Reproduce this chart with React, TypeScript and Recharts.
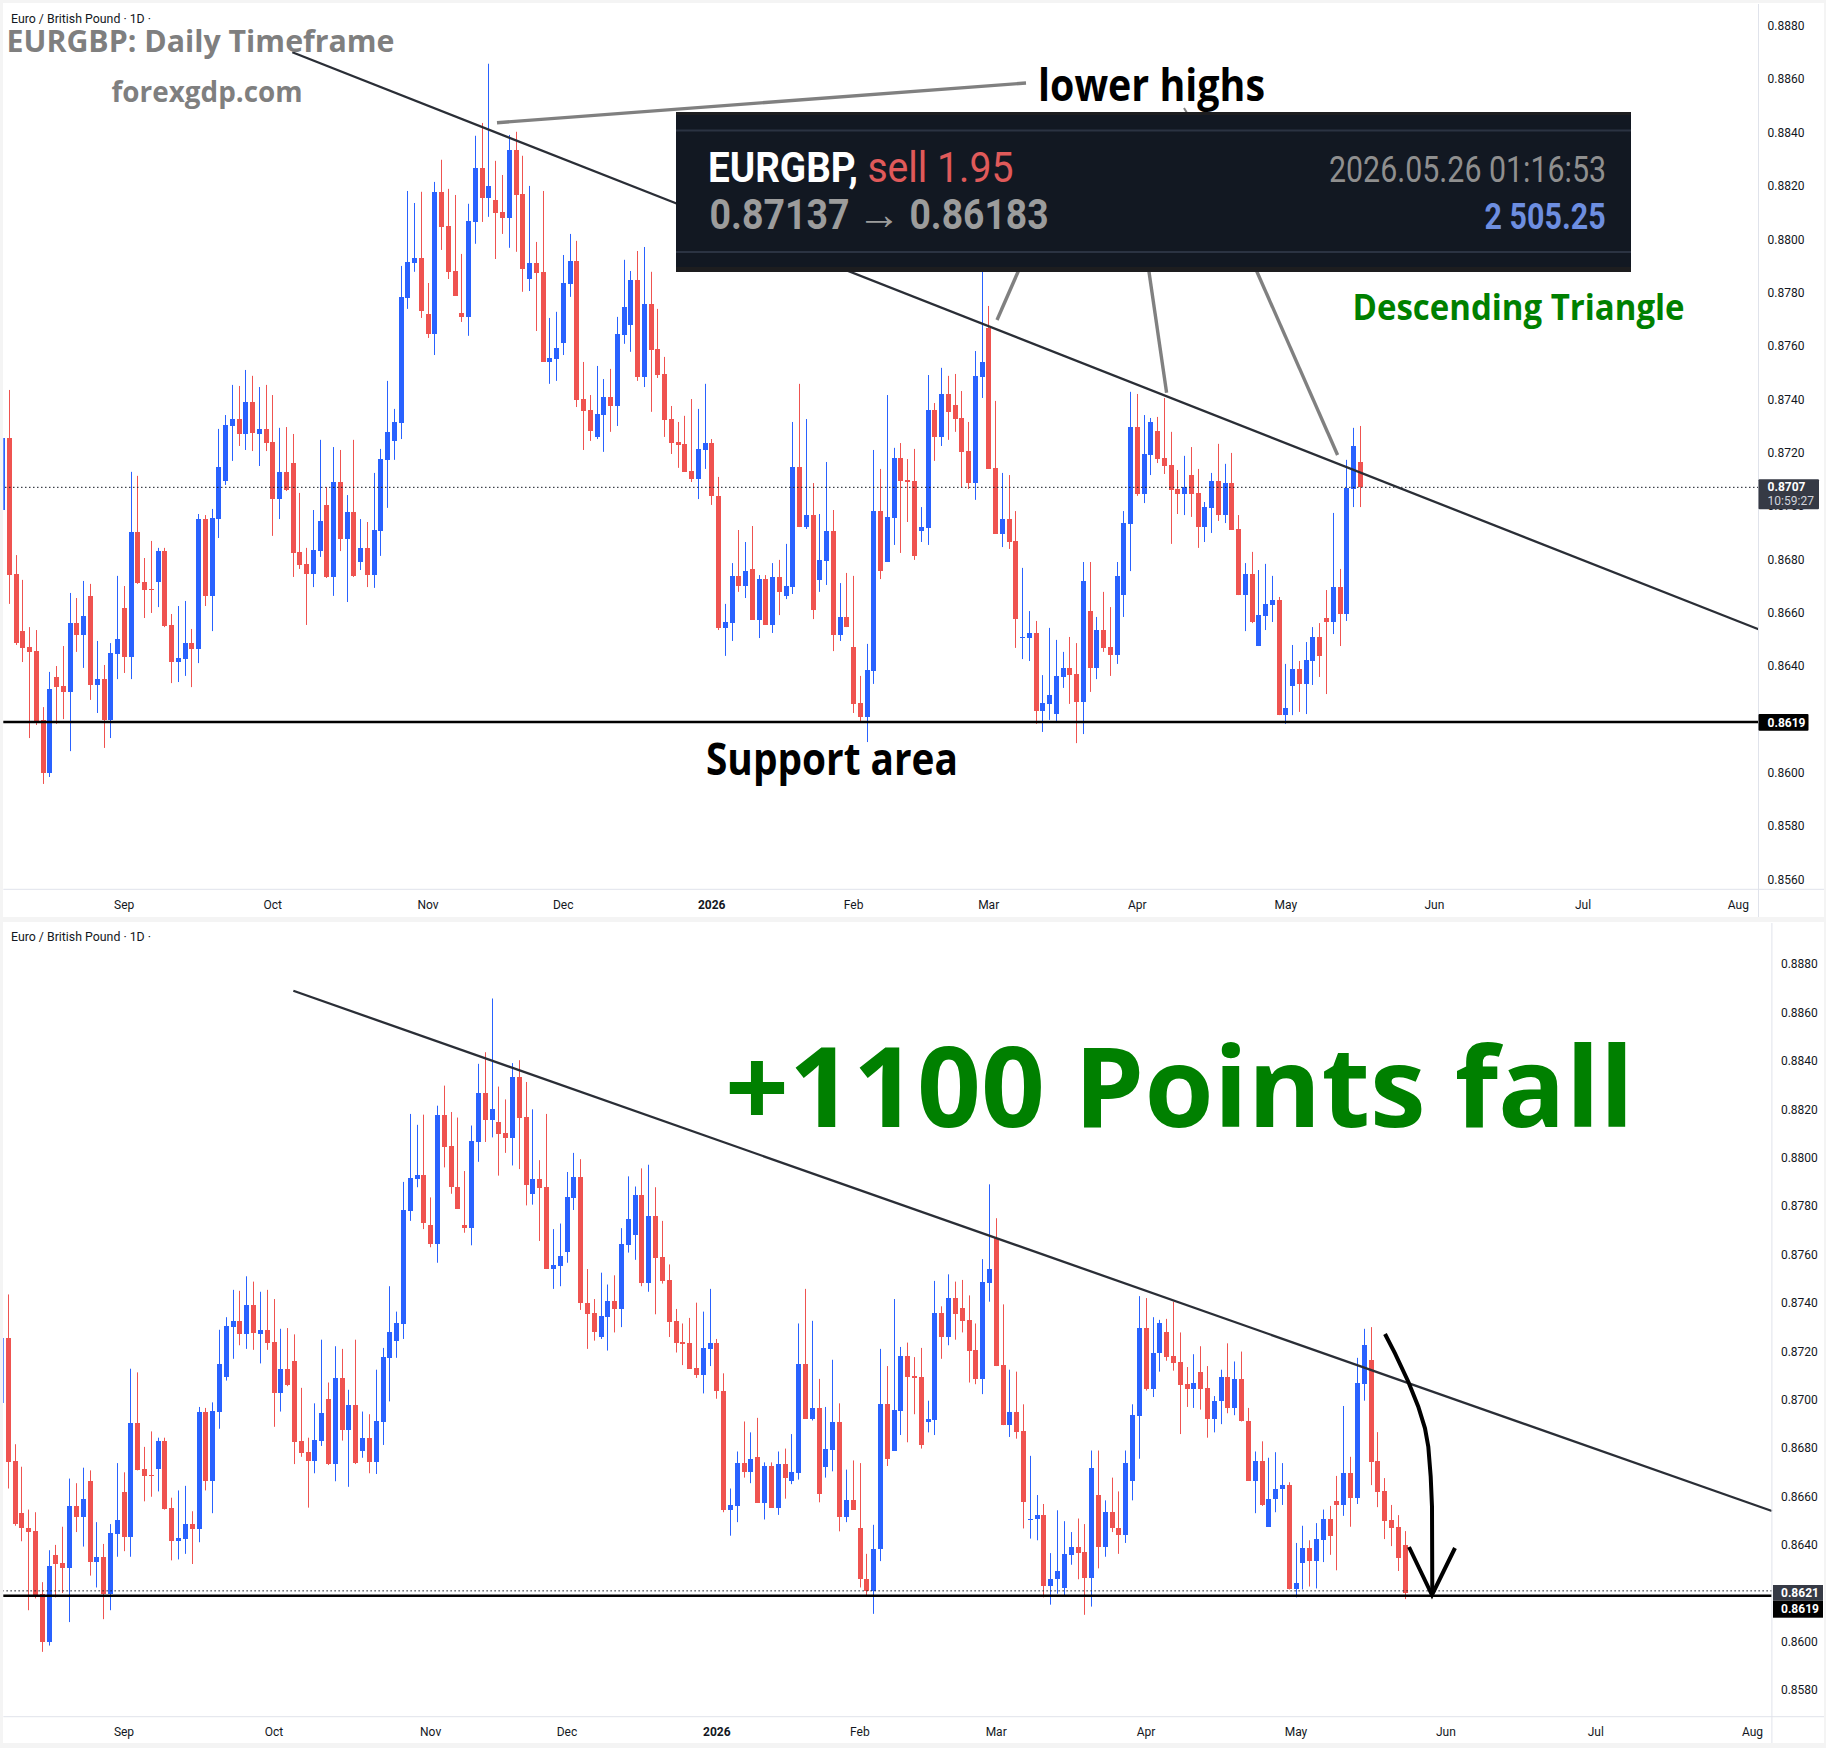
import React from "react";
import { ComposedChart, Bar, XAxis, YAxis, ReferenceLine } from "recharts";

const opens = [
  8698.5,8725.5,8674.5,8653.1,8647.1,8645.6,8619.8,8599.9,8635.9,8632.5,
  8630.3,8656.1,8651.6,8666.3,8632.9,8635.1,8619.8,8644.5,8661.8,8643.4,
  8690.3,8671.5,8668.9,8671.5,8683.1,8655.4,8641.5,8642.6,8648.6,8646.4,
  8695.1,8666.3,8695.1,8709.4,8730,8732.6,8727,8739,8727,8728.9,
  8724,8702.6,8712.8,8716.1,8682.8,8678.3,8674.5,8683.1,8700.4,8673.4,
  8709,8687.6,8697.8,8679,8684.3,8674.1,8690.6,8717.3,8724.4,8731.1,
  8778,8791.1,8793,8772,8764.5,8817.8,8805,8788.1,8772.4,8770.9,
  8806.5,8826.8,8815.5,8814.8,8810.3,8808,8833.5,8817,8785.1,8791.1,
  8787.8,8754,8755.1,8761.1,8783.3,8791.9,8740.1,8736,8725.9,8734.1,
  8740.9,8737.5,8764.1,8767.9,8784.8,8748.4,8775.8,8758.9,8749.5,8732.6,
  8724,8723.3,8713.1,8710.1,8721,8723.6,8703.8,8654.3,8656.1,8673.8,
  8670,8676.4,8657.3,8672.6,8655.4,8673.4,8666.3,8669.6,8714.6,8692.1,
  8696.6,8672.3,8679.4,8690.6,8651.6,8658.4,8647.1,8626.1,8620.9,8638.1,
  8698.1,8679,8695.5,8718,8709.8,8709.4,8690.6,8691.8,8736,8725.9,
  8742,8737.9,8733,8720.6,8708.6,8748.4,8766.8,8714.3,8689.5,8695.1,
  8686.9,8650.5,8650.5,8652.4,8623.1,8625.8,8622,8635.9,8639.3,8637,
  8626.5,8660.6,8639.3,8653.5,8647.1,8644.1,8666.6,8693.3,8729.6,8704.5,
  8719.1,8728.1,8718,8715.4,8706.4,8704.5,8711.6,8704.9,8692.1,8699.3,
  8709.4,8696.6,8708.6,8691.4,8666.6,8674.5,8647.5,8658.8,8662.9,8664.8,
  8621.6,8632.5,8638.9,8633.3,8641.9,8650.9,8658,8656.5,8669.6,8659.5,
  8706.4,8716.5,8674.6,8662.2,8650.3,8647.4,8639.9,
];
const closes = [
  8725.5,8674.1,8648.5,8646.8,8645.3,8619.4,8599.9,8631.4,8632.1,8630.3,
  8656.1,8651.6,8658.8,8632.9,8635.1,8619.8,8644.9,8650.1,8643.4,8690.3,
  8671.1,8668.5,8668.5,8683.1,8655,8641.5,8643,8648.6,8646.4,8695.1,
  8666.3,8695.5,8714.6,8730.4,8732.6,8727,8739,8727.4,8728.9,8723.6,
  8702.6,8712.8,8706,8682.4,8677.9,8674.5,8683.5,8694.4,8673.4,8709,
  8687.6,8697.8,8673.8,8684.3,8674.1,8691,8717.6,8727.8,8731.5,8778.4,
  8791.5,8793,8773.1,8764.5,8817.8,8804.6,8787.8,8778.8,8770.9,8806.9,
  8826.8,8815.5,8820,8809.9,8808,8833.5,8816.6,8788.9,8791.1,8787.4,
  8754,8755.5,8759.3,8783.6,8791.9,8739.8,8735.6,8728.1,8734.5,8740.9,
  8737.5,8764.5,8774.6,8784.8,8748.4,8775.8,8758.5,8749.1,8732.3,8723.6,
  8722.9,8712.8,8710.1,8721.4,8723.6,8703.8,8654.3,8656.5,8673.8,8670,
  8675.6,8657.3,8672.6,8655.4,8673.4,8667.8,8670,8714.6,8692.1,8696.6,
  8661,8679.8,8690.6,8651.6,8658.4,8654.6,8625.8,8620.9,8638.5,8698.1,
  8675.6,8695.9,8718,8709.4,8709,8681.3,8692.1,8736,8725.9,8742,
  8735.3,8732.6,8720.3,8708.6,8748.8,8754,8713.9,8689.5,8695.1,8686.5,
  8657.6,8650.9,8652.4,8623.1,8626.1,8629.1,8636.3,8639.3,8636.6,8626.5,
  8671.9,8639.3,8653.5,8646.8,8644.1,8673.8,8693.6,8729.6,8704.5,8719.5,
  8731.5,8717.6,8715,8706,8704.5,8707.1,8704.5,8692.1,8699.6,8709.4,
  8696.6,8708.6,8691,8666.6,8674.5,8656.5,8659.1,8663.3,8664.8,8621.6,
  8624.3,8638.9,8633.3,8642.3,8650.9,8643.8,8656.5,8669.6,8659.5,8706.8,
  8722.5,8674.2,8661.8,8649.9,8647,8634.6,8620.1,
];
const highs = [
  8727,8743.5,8681.6,8672.3,8654.6,8653.5,8624.6,8637.8,8640,8647.5,
  8667.4,8665.5,8671.9,8670.8,8649.4,8640.4,8648.6,8673.8,8670,8712.8,
  8711.3,8680.5,8686.9,8684.3,8684.3,8659.5,8662.5,8664.4,8653.9,8697,
  8696.6,8698.9,8728.9,8734.1,8745.4,8745,8751,8748.8,8744.6,8745.4,
  8741.6,8729.3,8729.6,8727,8704.9,8684.3,8698.5,8724.8,8707.1,8722.1,
  8721,8704.1,8724.8,8695.1,8694,8712.4,8721.4,8746.9,8736.4,8790,
  8818.1,8813.6,8817.8,8783.6,8821.5,8829.8,8818.9,8816.6,8794.5,8813.3,
  8838.8,8843.6,8865.8,8829.4,8824.1,8839.1,8840.3,8831.3,8820,8799,
  8818.1,8770.5,8772.8,8794.1,8802,8799.4,8754,8741.6,8752.5,8747.6,
  8751.4,8770.9,8792.3,8788.1,8795.6,8797.1,8787.8,8773.9,8755.9,8737.5,
  8731.5,8733.8,8740.1,8736.4,8745.8,8725.1,8710.9,8663.3,8678.6,8691,
  8686.5,8692.5,8674.1,8674.1,8678.6,8679.8,8685.8,8731.5,8745.8,8732.6,
  8708.6,8697,8716.5,8698.5,8671.1,8674.9,8673.8,8636.3,8648.3,8721,
  8713.9,8741.6,8721.8,8723.6,8717.6,8721.4,8699.6,8749.1,8738.6,8751.8,
  8748.8,8749.5,8743.1,8731.5,8758.1,8789,8775,8739.4,8712.4,8711.6,
  8698.1,8676.8,8660.6,8656.9,8636.6,8654.3,8649.8,8645.3,8650.9,8648.6,
  8679,8679,8658.4,8667.8,8662.1,8679,8698.1,8742.8,8742,8734.1,
  8733,8733.4,8740.5,8727.8,8713.5,8718.8,8722.1,8713.9,8701.5,8712.4,
  8723.3,8715.8,8719.9,8696.6,8678.6,8682.8,8676,8678.3,8673.8,8665.9,
  8640.8,8647.9,8641.9,8649,8654.6,8656.1,8668.5,8697.4,8676.4,8717.3,
  8729.3,8730,8686.6,8667.6,8656.5,8652.3,8645.7,
];
const lows = [
  8695,8663.3,8647.9,8641.5,8613,8617.9,8595.8,8598.4,8618.3,8620.1,
  8608.1,8645.3,8639.3,8627.3,8622.4,8609.3,8613,8635.1,8637.4,8635.1,
  8670.8,8658,8659.9,8662.1,8654.6,8633.6,8634,8636.3,8632.1,8641.1,
  8662.5,8653.1,8688,8707.9,8716.9,8722.5,8721,8720.6,8715,8720.6,
  8688.8,8695.1,8705.6,8673.4,8676.4,8655.4,8669.6,8680.9,8673,8666.3,
  8683.1,8664,8673.4,8676,8669.6,8669.3,8681.3,8699.3,8717.3,8725.1,
  8773.9,8787.8,8770.5,8763,8756.6,8796,8785.1,8778.8,8769,8763.8,
  8798.3,8806.5,8808.4,8792.6,8802,8796.8,8795.3,8780.3,8780.6,8765.6,
  8754,8745.8,8746.9,8756.6,8778.4,8737.1,8721,8724.4,8725.1,8720.3,
  8727.8,8730,8760.8,8757.8,8746.9,8744.6,8735.3,8748,8725.9,8719.5,
  8714.3,8712.8,8709,8702.6,8713.9,8700.4,8653.5,8643.8,8649.4,8667.8,
  8665.5,8657.3,8650.5,8655.4,8652.4,8659.1,8665.1,8667,8692.1,8691.4,
  8657.6,8667.8,8670.4,8645.6,8649.4,8654.6,8622.4,8619,8611.5,8633.3,
  8672.6,8679,8685.4,8682.4,8694,8679.8,8686.5,8685.4,8716.9,8722.5,
  8724.8,8727.8,8707.1,8706.4,8702.3,8740.5,8713.9,8689.5,8684.6,8683.9,
  8646.8,8642.6,8641.9,8618.3,8615.3,8619.8,8619,8631.8,8625.8,8611.1,
  8614.5,8630.3,8635.1,8645.3,8636.3,8640.8,8658.4,8675.6,8703.8,8701.1,
  8711.6,8716.1,8712,8685.8,8697,8696.6,8695.9,8684.3,8686.5,8689.9,
  8694.4,8693.6,8691,8666.6,8653.1,8656.1,8647.5,8653.5,8656.5,8621.6,
  8618.3,8621.6,8622.8,8622,8632.9,8635.9,8629.5,8652,8647.5,8656.9,
  8699.6,8664.7,8655.6,8642.4,8639.5,8629.2,8617.6,
];

// The upper panel was captured while candle 201 was still forming.
const formingIndex = 201;
const formingCandle = { open: 8716.5, high: 8730, low: 8699.6, close: 8707 };

const monthTicks = [18, 40, 63, 83, 105, 126, 146, 168, 190, 212, 234, 257];
const monthLabels = ["Sep", "Oct", "Nov", "Dec", "2026", "Feb", "Mar", "Apr", "May", "Jun", "Jul", "Aug"];
const topPriceTicks = [0.856, 0.858, 0.86, 0.862, 0.864, 0.866, 0.868, 0.87, 0.872, 0.874, 0.876, 0.878, 0.88, 0.882, 0.884, 0.886, 0.888];
const bottomPriceTicks = [0.858, 0.86, 0.862, 0.864, 0.866, 0.868, 0.87, 0.872, 0.874, 0.876, 0.878, 0.88, 0.882, 0.884, 0.886, 0.888];

const supportLevel = 0.8619;
const topLastPrice = 0.8707;
const bottomLastPrice = 0.8621;
const topTrend = [{ x: 42.9, y: 0.88701 }, { x: 259.98, y: 0.86538 }];
const bottomTrend = [{ x: 42.85, y: 0.8869 }, { x: 259.84, y: 0.8654 }];

const UP = "#2962ff";
const DOWN = "#ef5350";
const AXIS = "#e0e3eb";
const INK = "#131722";
const UI = "Roboto, sans-serif";
const HEAD = "'Open Sans', sans-serif";

const makeRow = (i: number, o: number, h: number, l: number, c: number) => ({
  i,
  open: o / 1e4,
  high: h / 1e4,
  low: l / 1e4,
  close: c / 1e4,
  range: [l / 1e4, h / 1e4],
});
const bottomRows = opens.map((o, i) => makeRow(i, o, highs[i], lows[i], closes[i]));
const topRows = bottomRows.slice(0, formingIndex);
topRows.push(makeRow(formingIndex, formingCandle.open, formingCandle.high, formingCandle.low, formingCandle.close));

function Candle(props: any) {
  const { x, y, width, height, payload } = props;
  if (!payload || !(height > 0)) return null;
  const { open, close, high, low } = payload;
  const k = height / (high - low);
  const yO = y + (high - open) * k;
  const yC = y + (high - close) * k;
  const color = close >= open ? UP : DOWN;
  const left = Math.round(x);
  const cx = left + width / 2;
  const bodyTop = Math.round(Math.min(yO, yC));
  const bodyBottom = Math.round(Math.max(yO, yC));
  return (
    <g>
      <line x1={cx} x2={cx} y1={y} y2={y + height} stroke={color} strokeWidth={1} />
      <rect x={left} y={bodyTop} width={width} height={Math.max(1, bodyBottom - bodyTop)} fill={color} />
    </g>
  );
}

function MonthTick(props: any) {
  const { x, y, payload } = props;
  const label = monthLabels[monthTicks.indexOf(payload.value)];
  return (
    <text x={x} y={y + 13.4} textAnchor="middle" dominantBaseline="central" fontFamily={UI} fontSize={12} fill={INK} fontWeight={label === "2026" ? 700 : 400}>
      {label}
    </text>
  );
}

type PanelProps = {
  rows: any[];
  top: number;
  height: number;
  marginTop: number;
  xDomain: number[];
  yDomain: number[];
  yTicks: number[];
  yAxisWidth: number;
  xAxisHeight: number;
  lastPrice: number;
  trend: { x: number; y: number }[];
};

function Panel({ rows, top, height, marginTop, xDomain, yDomain, yTicks, yAxisWidth, xAxisHeight, lastPrice, trend }: PanelProps) {
  return (
    <div style={{ position: "absolute", left: 0, top, width: 1826, height }}>
      <ComposedChart width={1826} height={height} data={rows} margin={{ top: marginTop, left: 3.3, right: 0, bottom: 0 }} barSize={5}>
        <XAxis
          dataKey="i"
          type="number"
          domain={xDomain}
          allowDataOverflow
          ticks={monthTicks}
          interval={0}
          height={xAxisHeight}
          stroke={AXIS}
          tickLine={false}
          tickSize={0}
          tick={<MonthTick />}
        />
        <YAxis
          orientation="right"
          type="number"
          domain={yDomain}
          allowDataOverflow
          ticks={yTicks}
          interval={0}
          width={yAxisWidth}
          stroke={AXIS}
          tickLine={false}
          tickSize={0}
          tickMargin={9}
          tickFormatter={(v: number) => v.toFixed(4)}
          tick={{ fontFamily: UI, fontSize: 12, fill: INK }}
        />
        <Bar dataKey="range" isAnimationActive={false} shape={(p: any) => <Candle {...p} />} />
        <ReferenceLine y={lastPrice} stroke={INK} strokeWidth={1} strokeDasharray="1.5 2.5" />
        <ReferenceLine y={supportLevel} stroke="#000000" strokeWidth={2.4} />
        <ReferenceLine segment={trend} stroke="#2a2e36" strokeWidth={2.3} ifOverflow="visible" />
      </ComposedChart>
    </div>
  );
}

function Label({ x, y, w, size, fill, weight = 700, family = HEAD, children, anchor = "start" }: any) {
  return (
    <text x={x} y={y} fontFamily={family} fontSize={size} fontWeight={weight} fill={fill} textLength={w} lengthAdjust="spacingAndGlyphs" textAnchor={anchor}>
      {children}
    </text>
  );
}

function Overlay() {
  const grey = "#808080";
  return (
    <svg width={1826} height={1748} style={{ position: "absolute", left: 0, top: 0, pointerEvents: "none" }}>
      {/* axis extensions */}
      <line x1={1758.5} x2={1824} y1={889.3} y2={889.3} stroke={AXIS} />
      <line x1={1758.5} x2={1758.5} y1={889} y2={917} stroke={AXIS} />
      <line x1={1771.9} x2={1824} y1={1716.7} y2={1716.7} stroke={AXIS} />
      <line x1={1771.9} x2={1771.9} y1={1716} y2={1743} stroke={AXIS} />

      {/* upper panel header */}
      <Label x={11} y={23} w={140} size={12} fill={INK} weight={400} family={UI}>Euro / British Pound · 1D ·</Label>
      <Label x={6.5} y={52} w={388} size={31} fill="#7f7f7f">EURGBP: Daily Timeframe</Label>
      <Label x={111.6} y={102} w={191} size={28} fill="#7f7f7f">forexgdp.com</Label>
      <Label x={1038} y={101} w={227} size={44} fill="#000000">lower highs</Label>
      <Label x={1352.6} y={320} w={332} size={36} fill="#008000">Descending Triangle</Label>
      <Label x={706} y={775} w={252} size={44} fill="#000000">Support area</Label>

      {/* grey pointer lines */}
      <line x1={497} y1={122.7} x2={1026} y2={83} stroke={grey} strokeWidth={3.4} />
      <line x1={1184} y1={108} x2={1187} y2={113} stroke={grey} strokeWidth={2} />
      <line x1={1021} y1={265} x2={997} y2={320} stroke={grey} strokeWidth={3.4} />
      <line x1={1148} y1={265} x2={1166.6} y2={392.7} stroke={grey} strokeWidth={3.4} />
      <line x1={1254} y1={265} x2={1337.6} y2={455} stroke={grey} strokeWidth={3.4} />

      {/* trade card */}
      <rect x={676} y={112} width={955} height={160} fill="#121822" />
      <rect x={676} y={112} width={955} height={3} fill="#1d1d1f" />
      <rect x={676} y={267} width={955} height={5} fill="#1d1d1f" />
      <rect x={676} y={129.5} width={955} height={2} fill="#2b3342" />
      <rect x={676} y={251} width={955} height={2} fill="#2b3342" />
      <Label x={708} y={182} w={150} size={43} fill="#ffffff" family={UI}>EURGBP,</Label>
      <Label x={867.4} y={182} w={146} size={43} fill="#e05a5a" weight={400} family={UI}>sell 1.95</Label>
      <Label x={709.6} y={229} w={140} size={43} fill="#9c9c9c" family={UI}>0.87137</Label>
      <Label x={857} y={229} w={44} size={43} fill="#9c9c9c" weight={400} family={UI}>→</Label>
      <Label x={909.5} y={229} w={139} size={43} fill="#9c9c9c" family={UI}>0.86183</Label>
      <Label x={1329} y={182} w={277} size={36} fill="#8f8f8f" weight={400} family={UI}>2026.05.26 01:16:53</Label>
      <Label x={1484.6} y={229} w={121} size={36} fill="#6d8ee0" family={UI}>2 505.25</Label>

      {/* upper panel price tags */}
      <rect x={1758.5} y={479.3} width={60.5} height={30} rx={1} fill="#363a45" />
      <text x={1767.6} y={487} dominantBaseline="central" fontFamily={UI} fontSize={12} fontWeight={700} fill="#ffffff">0.8707</text>
      <text x={1767.6} y={501.4} dominantBaseline="central" fontFamily={UI} fontSize={12} fill="#d1d4dc">10:59:27</text>
      <rect x={1758.5} y={714} width={50} height={16.7} rx={1} fill="#000000" />
      <text x={1767.6} y={722.5} dominantBaseline="central" fontFamily={UI} fontSize={12} fontWeight={700} fill="#ffffff">0.8619</text>

      {/* lower panel header */}
      <Label x={11} y={941} w={140} size={12} fill={INK} weight={400} family={UI}>Euro / British Pound · 1D ·</Label>
      <Label x={725} y={1127} w={909} size={112} fill="#008000">+1100 Points fall</Label>

      {/* hand-drawn arrow */}
      <polyline
        points="1385,1334 1395,1353.3 1408.3,1381.7 1418.3,1406.7 1425,1428.3 1428.3,1446.7 1430.7,1476.7 1432,1506.7 1432.3,1593"
        fill="none"
        stroke="#000000"
        strokeWidth={4}
      />
      <polyline points="1409,1547 1432,1595 1455,1548" fill="none" stroke="#000000" strokeWidth={4} />

      {/* lower panel price tags */}
      <rect x={1773} y={1585} width={50} height={15.7} fill="#363a45" />
      <text x={1781} y={1592.6} dominantBaseline="central" fontFamily={UI} fontSize={12} fontWeight={700} fill="#ffffff">0.8621</text>
      <rect x={1773} y={1600.7} width={50} height={17} fill="#000000" />
      <text x={1781} y={1609.3} dominantBaseline="central" fontFamily={UI} fontSize={12} fontWeight={700} fill="#ffffff">0.8619</text>
    </svg>
  );
}

export default function App() {
  return (
    <div style={{ position: "absolute", left: 0, top: 0, width: 1826, height: 1748, background: "#f4f4f4", overflow: "hidden" }}>
      <div style={{ position: "absolute", left: 3, top: 3, width: 1821, height: 914, background: "#ffffff" }} />
      <div style={{ position: "absolute", left: 3, top: 922, width: 1821, height: 821, background: "#ffffff" }} />
      <Panel
        rows={topRows}
        top={0}
        height={917}
        marginTop={4}
        xDomain={[0.107, 259.98]}
        yDomain={[0.85563, 0.88882]}
        yTicks={topPriceTicks}
        yAxisWidth={67.5}
        xAxisHeight={27.7}
        lastPrice={topLastPrice}
        trend={topTrend}
      />
      <Panel
        rows={bottomRows}
        top={921}
        height={822}
        marginTop={2}
        xDomain={[0.286, 259.84]}
        yDomain={[0.8569, 0.8897]}
        yTicks={bottomPriceTicks}
        yAxisWidth={54.1}
        xAxisHeight={26.3}
        lastPrice={bottomLastPrice}
        trend={bottomTrend}
      />
      <Overlay />
    </div>
  );
}
